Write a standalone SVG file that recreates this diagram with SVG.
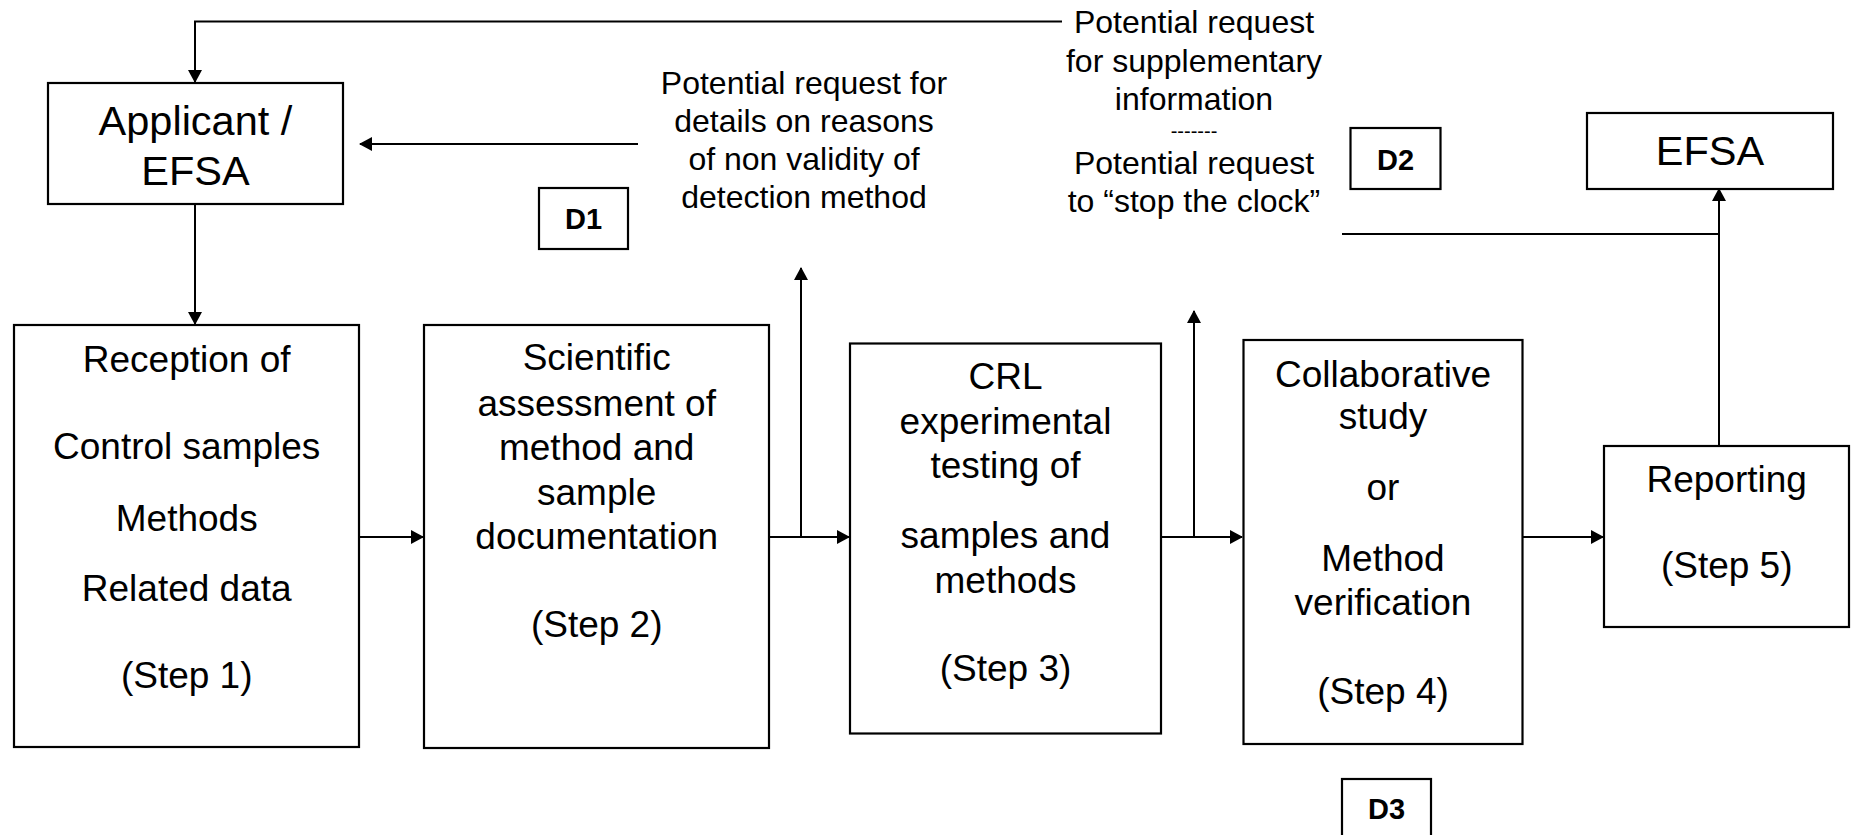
<svg xmlns="http://www.w3.org/2000/svg" width="1854" height="835" viewBox="0 0 1854 835">
<style>
  .box { fill: #fff; stroke: #000; stroke-width: 2.2; }
  .t { font-family: "Liberation Sans", Arial, sans-serif; fill: #000; text-anchor: middle; }
  .step { font-size: 37px; }
  .lbl { font-size: 32px; }
  .big { font-size: 41.5px; }
  .d { font-size: 29px; font-weight: bold; }
  .dash { font-size: 20px; }
  .c { fill: none; stroke: #000; stroke-width: 2; }
</style>
<defs>
  <marker id="ah" markerUnits="userSpaceOnUse" markerWidth="13" markerHeight="14" refX="12" refY="7" orient="auto">
    <path d="M0,0 L13,7 L0,14 Z" fill="#000"/>
  </marker>
</defs>
<rect width="1854" height="835" fill="#fff"/>

<g id="connectors">
  <path class="c" d="M1062,21.5 H195 V82" marker-end="url(#ah)"/>
  <path class="c" d="M638,144 H360" marker-end="url(#ah)"/>
  <path class="c" d="M195,204 V324" marker-end="url(#ah)"/>
  <path class="c" d="M359,537 H423" marker-end="url(#ah)"/>
  <path class="c" d="M769,537 H849" marker-end="url(#ah)"/>
  <path class="c" d="M801,537 V268" marker-end="url(#ah)"/>
  <path class="c" d="M1161,537 H1242" marker-end="url(#ah)"/>
  <path class="c" d="M1194,537 V311" marker-end="url(#ah)"/>
  <path class="c" d="M1522,537 H1603" marker-end="url(#ah)"/>
  <path class="c" d="M1719,446 V189" marker-end="url(#ah)"/>
  <path class="c" d="M1342,234 H1719"/>
</g>

<g id="applicant">
  <rect class="box" x="48" y="83" width="295" height="121"/>
  <text class="t big" x="195.5" y="135">Applicant /</text>
  <text class="t big" x="195.5" y="185">EFSA</text>
</g>

<g id="label-d1">
  <text class="t lbl" x="804" y="94">Potential request for</text>
  <text class="t lbl" x="804" y="132">details on reasons</text>
  <text class="t lbl" x="804" y="170">of non validity of</text>
  <text class="t lbl" x="804" y="208">detection method</text>
</g>

<g id="d1">
  <rect class="box" x="539" y="188" width="89" height="61"/>
  <text class="t d" x="583.5" y="229">D1</text>
</g>

<g id="label-d2">
  <text class="t lbl" x="1194" y="33">Potential request</text>
  <text class="t lbl" x="1194" y="71.5">for supplementary</text>
  <text class="t lbl" x="1194" y="110">information</text>
  <text class="t dash" x="1194" y="137.5">-------</text>
  <text class="t lbl" x="1194" y="174">Potential request</text>
  <text class="t lbl" x="1194" y="212">to “stop the clock”</text>
</g>

<g id="d2">
  <rect class="box" x="1350.5" y="128" width="90" height="61"/>
  <text class="t d" x="1395.5" y="169.5">D2</text>
</g>

<g id="efsa">
  <rect class="box" x="1587" y="113" width="246" height="76"/>
  <text class="t big" x="1710" y="165">EFSA</text>
</g>

<g id="step1">
  <rect class="box" x="14" y="325" width="345" height="422"/>
  <text class="t step" x="186.7" y="371.7">Reception of</text>
  <text class="t step" x="186.7" y="459.3">Control samples</text>
  <text class="t step" x="186.7" y="530.7">Methods</text>
  <text class="t step" x="186.7" y="601">Related data</text>
  <text class="t step" x="186.7" y="688.3">(Step 1)</text>
</g>

<g id="step2">
  <rect class="box" x="424" y="325" width="345" height="423"/>
  <text class="t step" x="596.7" y="370">Scientific</text>
  <text class="t step" x="596.7" y="415.7">assessment of</text>
  <text class="t step" x="596.7" y="460">method and</text>
  <text class="t step" x="596.7" y="505">sample</text>
  <text class="t step" x="596.7" y="549.3">documentation</text>
  <text class="t step" x="596.7" y="636.7">(Step 2)</text>
</g>

<g id="step3">
  <rect class="box" x="850" y="343.5" width="311" height="390"/>
  <text class="t step" x="1005.5" y="389.3">CRL</text>
  <text class="t step" x="1005.5" y="434">experimental</text>
  <text class="t step" x="1005.5" y="478.3">testing of</text>
  <text class="t step" x="1005.5" y="548.3">samples and</text>
  <text class="t step" x="1005.5" y="593.3">methods</text>
  <text class="t step" x="1005.5" y="680.7">(Step 3)</text>
</g>

<g id="step4">
  <rect class="box" x="1243.5" y="340" width="279" height="404"/>
  <text class="t step" x="1383" y="386.5">Collaborative</text>
  <text class="t step" x="1383" y="429.4">study</text>
  <text class="t step" x="1383" y="500.2">or</text>
  <text class="t step" x="1383" y="571">Method</text>
  <text class="t step" x="1383" y="615">verification</text>
  <text class="t step" x="1383" y="703.7">(Step 4)</text>
</g>

<g id="step5">
  <rect class="box" x="1604" y="446" width="245" height="181"/>
  <text class="t step" x="1726.7" y="491.7">Reporting</text>
  <text class="t step" x="1726.7" y="578.3">(Step 5)</text>
</g>

<g id="d3">
  <rect class="box" x="1342" y="779" width="89" height="70"/>
  <text class="t d" x="1386.5" y="819">D3</text>
</g>
</svg>
